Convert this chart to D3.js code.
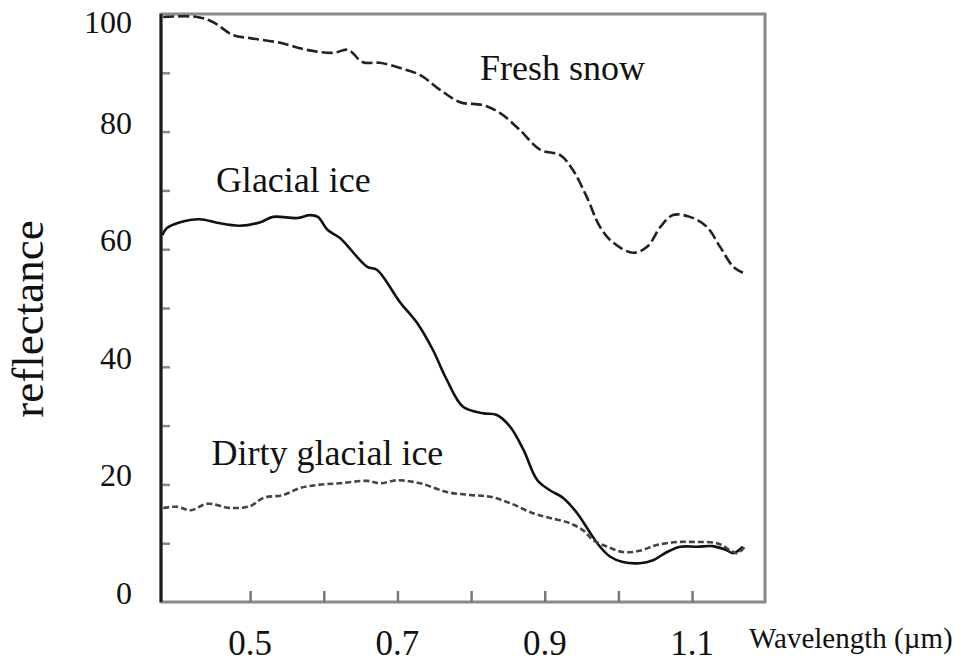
<!DOCTYPE html>
<html>
<head>
<meta charset="utf-8">
<script src="https://cdnjs.cloudflare.com/ajax/libs/d3/7.8.5/d3.min.js"></script>
<style>
  body { margin: 0; background: #fff; }
  svg text { font-family: "Liberation Serif", "Times New Roman", serif; fill: #111; }
</style>
</head>
<body>
<script>
// dimensions
var width = 964;
var height = 666;

var margin = {
    top: 14,
    bottom: 64,
    left: 161,
    right: 199,
}

// spectra (wavelength in µm, reflectance in %)
var snowWave = [0.382, 0.428, 0.450, 0.477, 0.500, 0.541, 0.577, 0.613, 0.633, 0.653, 0.676, 0.704,
    0.731, 0.758, 0.785, 0.816, 0.839, 0.866, 0.894, 0.921, 0.938, 0.957, 0.975, 0.993, 1.020,
    1.039, 1.057, 1.074, 1.097, 1.120, 1.138, 1.156, 1.169];
var snowRefl = [99.5, 99.5, 98.6, 96.4, 95.9, 95.1, 93.9, 93.4, 93.9, 91.8, 91.7, 90.8,
    89.6, 87.1, 85.0, 84.5, 83.2, 80.3, 76.9, 76.0, 73.5, 68.9, 63.8, 61.1, 59.4,
    60.4, 63.8, 65.8, 65.5, 63.8, 60.4, 57.0, 56.0];

var iceWave = [0.381, 0.387, 0.405, 0.432, 0.455, 0.486, 0.514, 0.531, 0.564, 0.581, 0.592, 0.605,
    0.622, 0.659, 0.672, 0.704, 0.727, 0.748, 0.767, 0.789, 0.816, 0.835, 0.853, 0.871, 0.890,
    0.907, 0.925, 0.944, 0.962, 0.975, 0.989, 1.006, 1.029, 1.047, 1.066, 1.084, 1.107, 1.128,
    1.147, 1.156, 1.169];
var iceRefl = [62.4, 63.6, 64.6, 65.1, 64.5, 64.0, 64.6, 65.5, 65.3, 65.8, 65.5, 63.3,
    61.9, 57.0, 56.5, 50.9, 47.4, 42.9, 37.8, 33.2, 32.1, 31.8, 29.8, 25.9, 20.7,
    19.0, 17.7, 15.1, 11.7, 9.4, 7.7, 6.8, 6.6, 7.1, 8.5, 9.4, 9.4, 9.5,
    8.8, 8.3, 9.4];

var dirtyWave = [0.382, 0.401, 0.419, 0.442, 0.473, 0.500, 0.518, 0.545, 0.568, 0.591, 0.622, 0.659,
    0.676, 0.700, 0.731, 0.767, 0.799, 0.826, 0.853, 0.884, 0.907, 0.934, 0.952, 0.966, 0.985,
    1.006, 1.029, 1.052, 1.080, 1.107, 1.134, 1.152, 1.161, 1.172];
var dirtyRefl = [16.0, 16.2, 15.6, 16.7, 16.0, 16.3, 17.7, 18.2, 19.4, 19.9, 20.2, 20.6,
    20.2, 20.7, 20.2, 18.7, 18.2, 17.9, 16.8, 15.1, 14.3, 13.4, 12.2, 10.5, 9.4,
    8.5, 8.7, 9.7, 10.2, 10.2, 10.0, 8.8, 8.3, 9.4];

// ticks and labels
var xTickValues = [0.5, 0.6, 0.7, 0.8, 0.9, 1.0, 1.1];
var xLabelValues = [0.5, 0.7, 0.9, 1.1];
var yTickValues = [10, 20, 30, 40, 50, 60, 70, 80, 90];
var yLabelValues = [0, 20, 40, 60, 80, 100];

var svg = d3.select("body")
    .append("svg")
    .attr("width", width)
    .attr("height", height);

var plotW = width - margin.left - margin.right;
var plotH = height - margin.top - margin.bottom;

var x = d3.scaleLinear().domain([0.379, 1.199]).range([margin.left, margin.left + plotW]);
var y = d3.scaleLinear().domain([0, 100]).range([margin.top + plotH, margin.top]);

// frame: grey top / right / bottom, dark left axis
svg.append("rect")
    .attr("x", x.range()[0])
    .attr("y", y.range()[1])
    .attr("width", plotW)
    .attr("height", plotH)
    .attr("fill", "none")
    .attr("stroke", "#8a8a8a")
    .attr("stroke-width", 3);

// tick marks point inwards
svg.append("g")
    .attr("transform", "translate(0," + y(0) + ")")
    .call(d3.axisBottom(x).tickValues(xTickValues).tickSize(-11).tickFormat(""))
    .call(function (g) {
        g.select(".domain").remove();
        g.selectAll("line").attr("stroke", "#777").attr("stroke-width", 2.5);
    });

svg.append("g")
    .attr("transform", "translate(" + x.range()[0] + ",0)")
    .call(d3.axisLeft(y).tickValues(yTickValues).tickSize(-9).tickFormat(""))
    .call(function (g) {
        g.select(".domain").remove();
        g.selectAll("line").attr("stroke", "#888").attr("stroke-width", 2.5);
    });

svg.append("line")
    .attr("x1", x.range()[0]).attr("x2", x.range()[0])
    .attr("y1", y(100)).attr("y2", y(0))
    .attr("stroke", "#1a1a1a")
    .attr("stroke-width", 3);

// tick labels
svg.append("g")
    .selectAll("text")
    .data(xLabelValues)
    .enter().append("text")
    .attr("x", function (d) { return x(d); })
    .attr("y", y(0) + 53)
    .attr("text-anchor", "middle")
    .attr("font-size", 35)
    .text(function (d) { return d3.format(".1f")(d); });

svg.append("g")
    .selectAll("text")
    .data(yLabelValues)
    .enter().append("text")
    .attr("x", x.range()[0] - 29)
    .attr("y", function (d) { return Math.max(y(d) + 2, margin.top + 19); })
    .attr("text-anchor", "end")
    .attr("font-size", 32)
    .text(function (d) { return d; });

// axis titles
svg.append("text")
    .attr("transform", "translate(43," + (y(50) + 11) + ") rotate(-90)")
    .attr("text-anchor", "middle")
    .attr("font-size", 45)
    .text("reflectance");

svg.append("text")
    .attr("x", 749)
    .attr("y", 648)
    .attr("font-size", 29)
    .text("Wavelength (\u00b5m)");

// spectra
var line = d3.line()
    .x(function (d) { return x(d[0]); })
    .y(function (d) { return y(d[1]); })
    .curve(d3.curveCatmullRom);

var series = [
    { name: "Fresh snow", data: d3.zip(snowWave, snowRefl), dash: "11,4", color: "#222", lx: 0.812, ly: 88.8 },
    { name: "Glacial ice", data: d3.zip(iceWave, iceRefl), dash: null, color: "#111", lx: 0.4535, ly: 69.7 },
    { name: "Dirty glacial ice", data: d3.zip(dirtyWave, dirtyRefl), dash: "6,3", color: "#444", lx: 0.4475, ly: 23.3 }
];

svg.append("g")
    .selectAll("path")
    .data(series)
    .enter().append("path")
    .attr("d", function (d) { return line(d.data); })
    .attr("fill", "none")
    .attr("stroke", function (d) { return d.color; })
    .attr("stroke-width", 2.6)
    .attr("stroke-dasharray", function (d) { return d.dash; });

svg.append("g")
    .selectAll("text")
    .data(series)
    .enter().append("text")
    .attr("x", function (d) { return x(d.lx); })
    .attr("y", function (d) { return y(d.ly); })
    .attr("font-size", 36)
    .text(function (d) { return d.name; });
</script>
</body>
</html>
